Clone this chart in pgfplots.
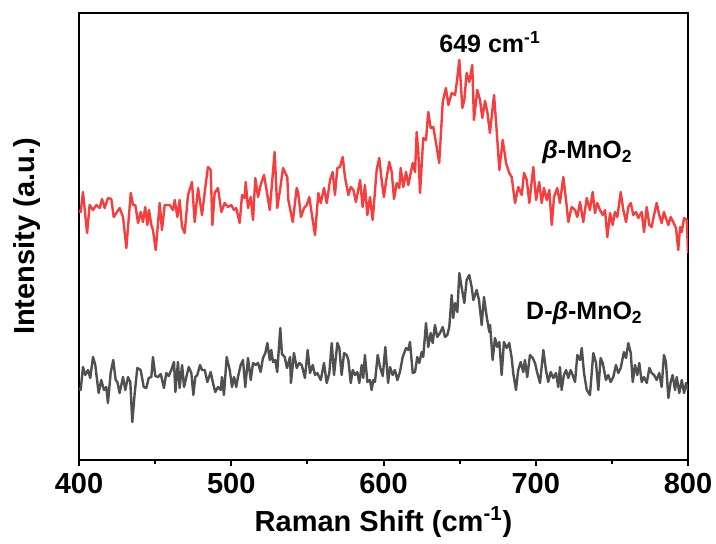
\documentclass[border=0pt]{standalone}
\usepackage{pgfplots}
\pgfplotsset{compat=1.18}
\usepackage{pgfplotstable}
\usepackage{fontspec}
\setmainfont{Liberation Sans}
\definecolor{redline}{RGB}{246,62,62}
\definecolor{grayline}{RGB}{80,80,80}

\pgfplotstableread{
x y
400.0 249
401.1 248
402.6 268
405.3 227
407.0 255
409.2 250
411.4 255
413.6 252
415.1 261
416.9 252
419.0 262
421.2 261
422.8 243
426.7 252
428.9 243
431.1 212
434.0 267
435.5 255
437.0 255
438.8 237
440.5 248
442.0 238
443.5 253
444.9 235
446.0 250
447.5 235
448.6 230
450.4 210
453.0 257
454.5 230
456.3 255
459.6 255
461.7 250
462.9 260
464.6 243
466.1 260
467.7 233
469.4 227
471.6 265
474.2 278
476.0 238
478.2 272
480.8 245
483.0 273
484.7 293
486.5 290
487.6 235
489.1 267
491.3 272
493.5 248
495.7 257
497.9 253
500.0 255
501.8 250
503.3 252
505.5 237
507.1 265
508.8 262
509.5 278
511.0 252
512.8 263
514.3 240
515.8 282
517.6 263
519.3 275
521.5 285
523.0 272
525.3 250
528.5 308
530.2 252
532.5 275
534.0 292
536.8 283
537.5 260
540.4 238
543.0 272
544.0 267
545.8 243
547.8 252
549.6 255
551.3 263
552.8 247
555.0 225
557.2 267
558.8 257
560.9 272
562.7 257
564.9 280
566.6 288
568.1 265
569.7 292
571.4 293
573.2 303
574.7 283
576.9 265
578.5 273
580.2 270
581.9 258
584.6 280
586.3 253
587.8 275
589.4 245
591.1 263
592.9 240
595.5 290
597.2 302
598.8 280
600.3 263
601.6 278
603.8 298
605.4 288
606.9 261
608.7 277
610.4 272
611.3 292
613.0 273
614.8 288
616.3 275
617.9 287
619.2 297
620.7 288
621.8 328
622.9 307
624.0 267
626.1 322
627.9 320
629.4 348
631.0 332
632.7 333
634.5 317
636.6 297
638.9 358
641.0 372
642.6 355
644.8 367
647.0 365
648.1 377
649.8 400
651.8 352
653.1 360
654.6 387
656.3 378
658.3 395
659.4 340
661.6 370
663.4 360
664.9 342
666.7 359
668.2 348
669.9 327
672.6 365
674.3 330
676.1 290
678.3 320
680.5 297
682.6 287
684.2 283
686.4 257
688.5 273
690.8 265
692.3 287
694.1 280
695.8 257
698.4 293
700.2 260
702.3 278
703.9 257
705.4 272
707.2 260
708.9 270
710.5 235
712.0 263
714.1 272
715.9 257
718.1 283
719.9 260
721.4 238
723.6 253
725.8 250
727.3 243
729.1 258
731.2 238
733.5 262
735.6 250
737.4 268
738.9 247
740.4 257
742.2 250
744.0 245
745.5 250
747.0 223
748.8 247
750.5 235
752.0 248
753.6 243
755.8 268
757.5 250
759.3 238
760.8 253
762.4 257
764.1 245
765.8 248
767.4 242
769.6 248
771.1 228
772.9 253
774.6 235
776.1 233
777.7 245
779.4 257
781.1 245
782.7 237
784.2 248
785.5 242
787.1 235
788.6 243
790.3 238
792.1 232
793.6 210
794.8 233
795.9 228
797.4 242
799.2 240
800.0 207
}\redtable

\pgfplotstableread{
x y
400.0 72
401.1 70
402.6 93
404.1 85
405.9 90
407.4 82
409.2 103
410.7 95
412.9 67
414.6 80
416.4 70
417.9 73
419.0 57
420.8 87
422.5 100
424.1 80
425.2 78
426.7 67
428.9 83
430.4 70
432.2 83
433.7 78
435.0 38
436.6 67
438.3 92
440.5 90
442.5 73
444.2 72
445.8 82
447.5 83
448.6 103
450.1 84
451.9 83
453.7 86
455.8 72
457.3 87
458.9 84
460.6 90
462.4 98
463.3 68
465.0 98
466.1 72
467.7 95
469.0 73
470.5 83
472.1 93
473.8 87
475.1 65
476.4 83
477.7 85
479.5 95
480.8 90
482.6 90
484.3 78
486.5 88
488.0 77
489.5 68
491.3 73
493.1 70
493.9 83
495.2 65
497.0 103
499.0 90
500.5 73
501.8 83
503.3 73
504.4 83
506.2 95
507.7 100
509.2 73
511.0 102
512.8 80
514.3 97
516.1 95
517.6 97
519.3 88
520.8 102
522.4 107
523.7 117
525.3 100
526.3 110
527.4 98
528.9 100
530.2 88
532.2 132
533.3 106
535.1 103
536.6 92
538.6 103
539.2 77
541.2 107
543.0 92
544.7 97
546.3 95
548.4 82
550.2 110
551.7 87
553.5 95
555.0 85
556.5 87
558.8 80
560.9 97
562.7 77
564.4 87
566.0 117
567.5 85
569.7 117
571.0 112
572.5 85
574.1 107
575.8 105
576.9 100
578.5 77
579.8 90
581.3 85
582.8 88
584.1 77
585.7 95
586.7 82
587.8 105
589.4 78
591.1 80
592.2 70
593.3 80
594.4 78
596.2 105
597.7 93
599.5 84
601.2 113
603.0 77
604.3 93
606.0 85
607.5 90
609.1 80
610.8 88
612.6 103
614.8 112
616.3 110
617.4 118
619.2 87
620.7 88
622.2 103
623.5 97
625.1 108
626.1 103
627.9 137
629.4 113
631.0 127
632.3 117
633.8 135
635.3 123
637.1 127
638.9 133
640.4 123
641.9 125
643.2 133
644.8 165
645.8 142
647.0 157
648.5 148
649.8 187
651.4 172
653.1 157
654.6 180
656.3 185
657.9 173
659.0 160
661.2 170
662.7 160
664.5 135
666.0 163
667.8 143
669.5 128
670.0 135
671.7 100
673.2 122
674.7 113
676.1 118
677.6 85
679.1 118
680.9 112
682.6 117
684.2 102
685.2 87
687.0 70
688.5 90
690.1 98
691.8 88
692.9 100
694.4 83
696.2 105
698.0 102
699.5 97
701.0 87
702.8 77
705.0 110
706.7 90
708.2 78
709.8 88
711.5 82
713.3 87
714.8 73
715.9 93
717.0 70
718.5 85
719.9 90
721.4 82
722.9 90
724.2 85
725.8 78
727.3 105
729.1 100
730.2 112
731.7 87
733.5 70
735.6 65
737.8 107
739.6 97
741.1 70
742.6 102
744.0 97
746.1 80
747.6 85
749.2 78
750.9 83
752.7 95
754.2 87
755.8 92
757.9 108
759.3 102
760.8 117
762.4 107
763.7 78
765.2 95
766.7 85
768.0 97
769.6 78
771.1 83
772.9 77
774.6 92
776.1 87
777.7 85
779.4 80
781.1 87
782.7 73
784.2 105
785.5 98
787.1 62
788.6 78
789.9 85
791.5 70
792.6 83
794.3 67
795.9 80
797.4 67
798.7 77
800.0 70
}\graytable

\begin{document}
\begin{tikzpicture}
\begin{axis}[
  width=304.5pt, height=223.5pt, scale only axis,
  xmin=400, xmax=800, ymin=0, ymax=447,
  xtick={400,500,600,700,800},
  minor x tick num=1,
  xtick pos=bottom, ytick=\empty,
  tick align=outside,
  major tick length=3pt, minor tick length=2pt,
  every tick/.style={black, line width=1pt},
  axis line style={line width=1pt},
  /pgf/number format/assume math mode=true,
  /pgf/number format/1000 sep={},
  tick label style={font=\fontsize{14.5}{16}\selectfont\bfseries},
  label style={font=\fontsize{14.5}{16}\selectfont\bfseries},
  xlabel={Raman Shift (cm\textsuperscript{-1})},
  ylabel={Intensity (a.u.)},
  xlabel style={at={(axis description cs:0.5,-0.1387)}, anchor=center},
  ylabel style={at={(axis description cs:-0.0854,0.5)}, anchor=center},
]
\addplot[color=redline, line width=1.2pt, line join=round] table[x=x,y=y] {\redtable};
\addplot[color=grayline, line width=1.2pt, line join=round] table[x=x,y=y] {\graytable};
\node[font=\fontsize{12.5}{14}\selectfont\bfseries] at (axis cs:670,418) {649 cm\textsuperscript{-1}};
\node[font=\fontsize{12.5}{14}\selectfont\bfseries] at (axis cs:734,308) {\textit{β}-MnO\textsubscript{2}};
\node[font=\fontsize{12.5}{14}\selectfont\bfseries] at (axis cs:732,147) {D-\textit{β}-MnO\textsubscript{2}};
\end{axis}
\pgfresetboundingbox
\path[use as bounding box] ([shift={(-39.5pt,-41.5pt)}]current axis.south west) rectangle ([shift={(14pt,6.5pt)}]current axis.north east);
\end{tikzpicture}
\end{document}
